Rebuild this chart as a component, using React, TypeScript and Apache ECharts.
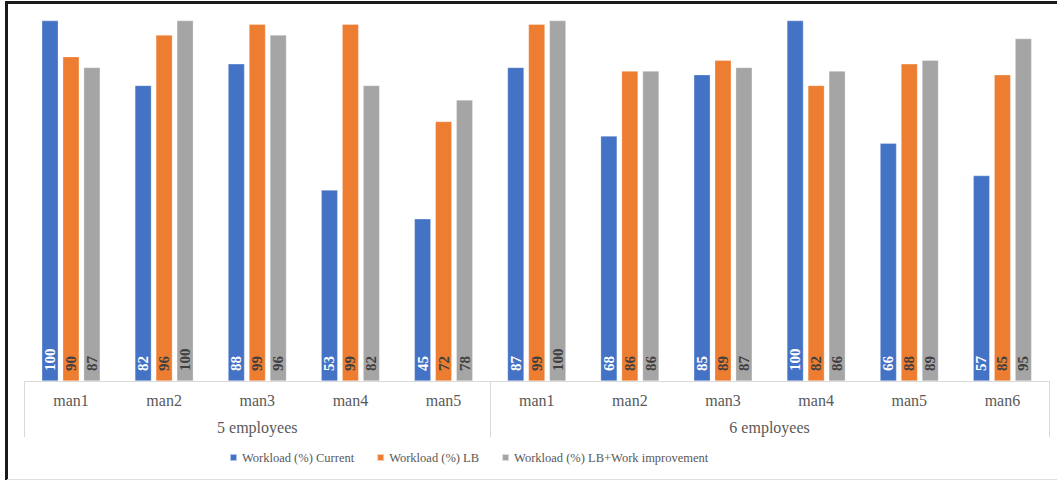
import React, { useEffect, useRef } from "react";
import * as echarts from "echarts";

const categories = ["man1", "man2", "man3", "man4", "man5", "man1", "man2", "man3", "man4", "man5", "man6"];
const groupLabels = ["5 employees", "6 employees"];
const groupSizes = [5, 6];
const seriesNames = ["Workload (%) Current", "Workload (%) LB", "Workload (%) LB+Work improvement"];
const currentValues = [100, 82, 88, 53, 45, 87, 68, 85, 100, 66, 57];
const lbValues = [90, 96, 99, 99, 72, 99, 86, 89, 82, 88, 85];
const improvedValues = [87, 100, 96, 82, 78, 100, 86, 87, 86, 89, 95];

const colors = ["#4472C4", "#ED7D31", "#A5A5A5"];
const labelColors = ["#ffffff", "#404040", "#404040"];
const FONT = "Liberation Serif";

export default function App() {
  const ref = useRef<HTMLDivElement>(null);

  useEffect(() => {
    if (!ref.current) return;
    const chart = echarts.init(ref.current, null, { renderer: "svg" });
    const total = groupSizes.reduce((a, b) => a + b, 0);
    const bounds: number[] = [0];
    const centers: number[] = [];
    let acc = 0;
    groupSizes.forEach((s) => {
      centers.push(acc + s / 2);
      acc += s;
      bounds.push(acc);
    });
    const dataSets = [currentValues, lbValues, improvedValues];
    chart.setOption({
      animation: false,
      textStyle: { fontFamily: FONT },
      grid: { left: 24.4, right: 8, top: 20.6, bottom: 100, containLabel: false },
      legend: {
        left: 229,
        top: 451,
        padding: 0,
        itemWidth: 7,
        itemHeight: 7,
        itemGap: 22,
        icon: "rect",
        textStyle: { fontFamily: FONT, fontSize: 12.5, color: "#595959" },
        data: seriesNames,
      },
      xAxis: [
        {
          type: "category",
          data: categories,
          position: "bottom",
          axisLine: { show: true, lineStyle: { color: "#d9d9d9", width: 1 } },
          axisTick: { show: false },
          axisLabel: { fontFamily: FONT, fontSize: 16, color: "#595959", margin: 11, interval: 0 },
          splitLine: { show: false },
        },
        {
          type: "value",
          min: 0,
          max: total,
          position: "bottom",
          axisLine: { show: false },
          axisTick: {
            show: true,
            customValues: bounds,
            length: 56,
            lineStyle: { color: "#d9d9d9", width: 1 },
          },
          axisLabel: {
            customValues: centers,
            fontFamily: FONT,
            fontSize: 16,
            color: "#595959",
            margin: 38,
            formatter: (v: number) => {
              const i = centers.findIndex((c) => Math.abs(c - v) < 1e-6);
              return i >= 0 ? groupLabels[i] : "";
            },
          },
          splitLine: { show: false },
        },
      ],
      yAxis: {
        type: "value",
        min: 0,
        max: 100,
        show: false,
        splitLine: { show: false },
      },
      series: seriesNames.map((name, i) => ({
        name,
        type: "bar",
        xAxisIndex: 0,
        data: dataSets[i],
        barWidth: 16.5,
        barGap: "27%",
        itemStyle: { color: colors[i], borderColor: "rgba(255,255,255,0.6)", borderWidth: 0.5 },
        label: {
          show: true,
          position: "insideBottom",
          rotate: 90,
          align: "left",
          verticalAlign: "middle",
          distance: 10,
          fontFamily: FONT,
          fontSize: 15,
          fontWeight: "bold",
          color: labelColors[i],
        },
      })),
    });
    return () => chart.dispose();
  }, []);

  return (
    <div style={{ position: "absolute", left: 0, top: 0, width: 1057, height: 481, background: "#fff" }}>
      <div ref={ref} style={{ position: "absolute", left: 0, top: 0, width: 1057, height: 481 }} />
      <div style={{ position: "absolute", left: 5, top: 1, width: 1052, height: 2.5, background: "#1a1a1a" }} />
      <div style={{ position: "absolute", left: 5, top: 1, width: 2.5, height: 479, background: "#1a1a1a" }} />
      <div style={{ position: "absolute", left: 7, top: 479, width: 1050, height: 1, background: "#e0e0e0" }} />
    </div>
  );
}
